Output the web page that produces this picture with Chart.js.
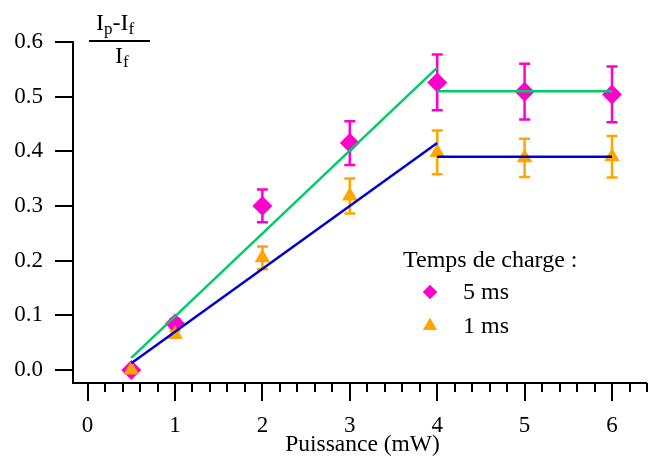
<!DOCTYPE html>
<html><head><meta charset="utf-8">
<script src="https://cdn.jsdelivr.net/npm/chart.js@4/dist/chart.umd.min.js"></script>
<style>html,body{margin:0;padding:0;background:#fff}#wrap{width:652px;height:457px}</style>
</head><body><div id="wrap"><canvas id="c" width="652" height="457"></canvas></div>
<script>
// Data (x = Puissance in mW)
const powerX   = [0.5, 1, 2, 3, 4, 5, 6];
const ratio5ms = [0.0, 0.085, 0.300, 0.415, 0.526, 0.509, 0.504];
const err5ms   = [0.0, 0.008, 0.030, 0.040, 0.051, 0.051, 0.051];
const ratio1ms = [0.0, 0.065, 0.205, 0.318, 0.398, 0.388, 0.390];
const err1ms   = [0.0, 0.006, 0.021, 0.032, 0.040, 0.035, 0.038];
// Fit lines
const fit5X = [0.5, 4],  fit5Y = [0.022, 0.553];
const plat5X = [4, 6],   plat5Y = [0.51, 0.51];
const fit1X = [0.5, 4],  fit1Y = [0.012, 0.415];
const plat1X = [4, 6],   plat1Y = [0.39, 0.39];
// Ticks
const xTicks = [0, 1, 2, 3, 4, 5, 6];
const xMinorStep = 0.2;
const xAxisEnd = 6.4;
const yTicks = [0.0, 0.1, 0.2, 0.3, 0.4, 0.5, 0.6];
const legendTitle = 'Temps de charge :';
const seriesNames = ['5 ms', '1 ms'];
const xTitle = 'Puissance (mW)';

const MAG = 'rgb(255,0,204)', ORA = 'rgb(255,165,0)', GRN = 'rgb(0,204,102)', BLU = 'rgb(0,0,204)';
const FONT = '"Liberation Serif", "Times New Roman", serif';

const pts = (xs, ys) => xs.map((x, i) => ({x, y: ys[i]}));

const errPlugin = {
  id: 'errbars',
  beforeDatasetsDraw(chart) {
    const ctx = chart.ctx, xs = chart.scales.x, ys = chart.scales.y;
    const draw = (vals, errs, color) => {
      ctx.save(); ctx.strokeStyle = color; ctx.lineWidth = 2.5;
      powerX.forEach((xv, i) => {
        if (!errs[i]) return;
        const px = xs.getPixelForValue(xv);
        const t = ys.getPixelForValue(vals[i] + errs[i]);
        const b = ys.getPixelForValue(vals[i] - errs[i]);
        ctx.beginPath();
        ctx.moveTo(px, t); ctx.lineTo(px, b);
        ctx.moveTo(px - 5.5, t); ctx.lineTo(px + 5.5, t);
        ctx.moveTo(px - 5.5, b); ctx.lineTo(px + 5.5, b);
        ctx.stroke();
      });
      ctx.restore();
    };
    draw(ratio5ms, err5ms, MAG);
    draw(ratio1ms, err1ms, ORA);
  }
};

const decoPlugin = {
  id: 'deco',
  afterDraw(chart) {
    const ctx = chart.ctx, xs = chart.scales.x, ys = chart.scales.y;
    const area = chart.chartArea;
    ctx.save();
    // axis extension to the end value
    ctx.strokeStyle = '#000'; ctx.lineWidth = 2;
    const endPx = xs.getPixelForValue(xAxisEnd);
    ctx.beginPath(); ctx.moveTo(area.right - 1, area.bottom); ctx.lineTo(endPx, area.bottom); ctx.stroke();
    // minor x ticks
    for (let k = Math.ceil(xs.min / xMinorStep); k * xMinorStep <= xAxisEnd + 1e-9; k++) {
      const v = k * xMinorStep;
      if (Math.abs(v - Math.round(v)) < 1e-6) continue;
      const px = Math.min(Math.round(xs.getPixelForValue(v)), chart.width - 1);
      ctx.beginPath(); ctx.moveTo(px, area.bottom); ctx.lineTo(px, area.bottom + 9); ctx.stroke();
    }
    // x title
    ctx.fillStyle = '#000';
    ctx.font = '23.5px ' + FONT;
    ctx.textAlign = 'center'; ctx.textBaseline = 'alphabetic';
    ctx.fillText(xTitle, (area.left + area.right) / 2 + 5, 451);
    // y title (fraction)
    const big = '24px ' + FONT, sub = '17px ' + FONT;
    ctx.textAlign = 'left';
    let x = 96;
    const parts = [['I', big, 0], ['p', sub, 4], ['-I', big, 0], ['f', sub, 4]];
    parts.forEach(([t, f, dy]) => { ctx.font = f; ctx.fillText(t, x, 30 + dy); x += ctx.measureText(t).width; });
    ctx.lineWidth = 2;
    ctx.beginPath(); ctx.moveTo(89, 41); ctx.lineTo(150, 41); ctx.stroke();
    ctx.font = big; ctx.fillText('I', 115, 63);
    let w = ctx.measureText('I').width;
    ctx.font = sub; ctx.fillText('f', 115 + w, 67);
    // legend
    ctx.font = '24px ' + FONT;
    ctx.fillText(legendTitle, 403, 267);
    ctx.fillText(seriesNames[0], 463, 299);
    ctx.fillText(seriesNames[1], 463, 333);
    const H = Chart.helpers;
    ctx.fillStyle = MAG;
    H.drawPoint(ctx, {pointStyle: 'rectRot', radius: 7, rotation: 0, borderWidth: 0}, 430, 292);
    ctx.fill();
    ctx.fillStyle = ORA;
    H.drawPoint(ctx, {pointStyle: 'triangle', radius: 8, rotation: 0, borderWidth: 0}, 430, 326);
    ctx.fill();
    ctx.restore();
  }
};

const lineDs = (xs, ys, color) => ({
  type: 'scatter', data: pts(xs, ys), showLine: true, borderColor: color, borderWidth: 2.5,
  pointRadius: 0, fill: false, tension: 0
});

new Chart(document.getElementById('c'), {
  type: 'scatter',
  data: {
    datasets: [
      lineDs(fit5X, fit5Y, GRN),
      lineDs(plat5X, plat5Y, GRN),
      lineDs(fit1X, fit1Y, BLU),
      lineDs(plat1X, plat1Y, BLU),
      { data: pts(powerX, ratio1ms), pointStyle: 'triangle', pointRadius: 9, backgroundColor: ORA, borderColor: ORA, borderWidth: 0 },
      { data: pts(powerX, ratio5ms), pointStyle: 'rectRot', pointRadius: 10, backgroundColor: MAG, borderColor: MAG, borderWidth: 0 }
    ]
  },
  options: {
    responsive: false, animation: false, devicePixelRatio: 1,
    layout: { padding: { top: 42, right: 0, left: 0, bottom: 0 } },
    plugins: { legend: { display: false }, tooltip: { enabled: false } },
    scales: {
      x: {
        type: 'linear', min: -0.167, max: 6.343,
        grid: { drawOnChartArea: false, drawTicks: true, tickLength: 18, color: '#000', lineWidth: 2 },
        border: { color: '#000', width: 2 },
        ticks: { font: { family: FONT, size: 23 }, color: '#000', padding: 11, maxRotation: 0,
                 callback: v => String(v) },
        afterBuildTicks: s => { s.ticks = xTicks.map(v => ({value: v})); },
        afterFit: s => { s.height = 74; }
      },
      y: {
        type: 'linear', min: -0.024, max: 0.6,
        grid: { drawOnChartArea: false, drawTicks: true, tickLength: 18, color: '#000', lineWidth: 2 },
        border: { color: '#000', width: 2 },
        ticks: { font: { family: FONT, size: 23 }, color: '#000', padding: 12,
                 callback: v => Number(v).toFixed(1) },
        afterBuildTicks: s => { s.ticks = yTicks.map(v => ({value: v})); },
        afterFit: s => { s.width = 73; }
      }
    }
  },
  plugins: [errPlugin, decoPlugin]
});
</script></body></html>
